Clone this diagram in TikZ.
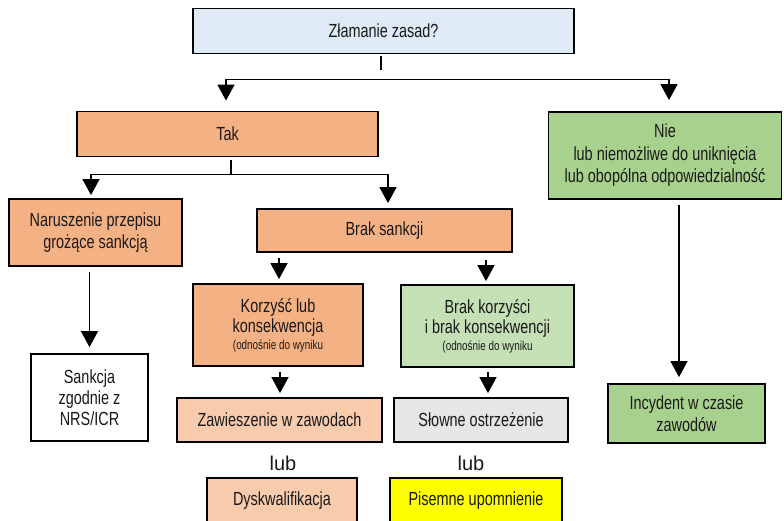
\documentclass[tikz,border=0pt]{standalone}
\usepackage{fontspec}
\setmainfont[FakeStretch=0.76]{Liberation Sans}
\newfontfamily\lubfont{Liberation Sans}
\usetikzlibrary{arrows.meta,calc}
\definecolor{topblue}{HTML}{DEEAF6}
\definecolor{orng}{HTML}{F4B183}
\definecolor{lorng}{HTML}{F8CBAD}
\definecolor{lgrn}{HTML}{C5E0B4}
\definecolor{grn}{HTML}{A9D18E}
\definecolor{lgray}{HTML}{E7E6E6}
\definecolor{yel}{HTML}{FFFF00}
\begin{document}
\begin{tikzpicture}[x=1pt,y=-1pt,
  box/.style={draw=black, line width=1.8pt, inner sep=0pt, align=center,
    font=\fontsize{19}{21.5}\selectfont, text=black!90},
  conn/.style={line width=1.4pt, draw=black},
  arr/.style={conn, -{Triangle[width=17pt,length=16pt]}},
  lubtxt/.style={font=\lubfont\fontsize{20}{22}\selectfont, inner sep=0pt, text=black!90}]
\clip (0,0) rectangle (784,521);
\fill[white] (0,0) rectangle (784,521);

% nodes
\node[box, fill=topblue, minimum width=381pt, minimum height=45pt] (top) at (383.5,31) {Złamanie zasad?};
\node[box, fill=orng, minimum width=301pt, minimum height=45pt] (tak) at (227.5,134) {Tak};
\node[box, fill=grn, minimum width=233pt, minimum height=87pt, font=\fontsize{19}{22.5}\selectfont] (nie) at (665,155.5)
  {Nie\\lub niemożliwe do uniknięcia\\lub obopólna odpowiedzialność};
\node[box, fill=orng, minimum width=173pt, minimum height=67pt, font=\fontsize{19}{22}\selectfont] (nar) at (95.5,232.5)
  {Naruszenie przepisu\\grożące sankcją};
\node[box, fill=orng, minimum width=255pt, minimum height=43pt] (brak) at (384.5,230.5) {Brak sankcji};
\node[box, fill=white, minimum width=117pt, minimum height=87pt, font=\fontsize{19}{21}\selectfont] (sank) at (89.5,397.5)
  {Sankcja\\zgodnie z\\NRS/ICR};
\node[box, fill=orng, minimum width=170pt, minimum height=82pt, font=\fontsize{19}{20.5}\selectfont] (korz) at (278,325)
  {Korzyść lub\\konsekwencja\\[-4pt]{\fontsize{13}{14}\selectfont (odnośnie do wyniku}};
\node[box, fill=lgrn, minimum width=173pt, minimum height=82pt, font=\fontsize{19}{20.5}\selectfont] (bkorz) at (487.5,326)
  {Brak korzyści\\i brak konsekwencji\\[-4pt]{\fontsize{13}{14}\selectfont (odnośnie do wyniku}};
\node[box, fill=grn, minimum width=157pt, minimum height=59pt, font=\fontsize{19}{22}\selectfont] (inc) at (686.5,413.5)
  {Incydent w czasie\\zawodów};
\node[box, fill=lorng, minimum width=205pt, minimum height=44pt] (zaw) at (279.5,420) {Zawieszenie w zawodach};
\node[box, fill=lgray, minimum width=174pt, minimum height=44pt] (slow) at (481,420) {Słowne ostrzeżenie};
\node[lubtxt] (lub1) at (283,463) {lub};
\node[lubtxt] (lub2) at (471,463) {lub};
\node[box, fill=lorng, minimum width=150pt, minimum height=46pt] (dysk) at (282,501) {Dyskwalifikacja};
\node[box, fill=yel, minimum width=172pt, minimum height=46pt] (pis) at (476,501) {Pisemne upomnienie};

% connectors
\draw[conn] ($(top.south)+(-2.5,2)$) -- ++(0,14);
\coordinate (s1) at ($(top.south)+(-2.5,25)$);
\draw[arr, shorten >=10pt] (s1) -| ($(tak.north)+(-1.5,0)$);
\draw[arr, shorten >=11pt] (s1) -| ($(nie.north)+(4,0)$);

\coordinate (s2) at ($(tak.south)+(3.5,17)$);
\draw[conn] ($(tak.south)+(3.5,3)$) -- (s2);
\draw[arr, shorten >=3pt] (s2) -| ($(nar.north)+(-4.5,0)$);
\draw[arr, shorten >=5pt] (s2) -| ($(brak.north)+(3.5,0)$);

\draw[arr, shorten <=5pt, shorten >=6pt] (sank.north |- nar.south) -- (sank.north);
\draw[arr, shorten <=5pt, shorten >=4pt] ($(korz.north |- brak.south)+(1,0)$) -- ($(korz.north)+(1,0)$);
\draw[arr, shorten <=7pt, shorten >=3pt] ($(bkorz.north |- brak.south)+(-1.5,0)$) -- ($(bkorz.north)+(-1.5,0)$);
\draw[arr, shorten <=5pt, shorten >=6pt] ($(inc.north |- nie.south)+(-7.5,0)$) -- ($(inc.north)+(-7.5,0)$);
\draw[arr, shorten <=5pt, shorten >=4pt] ($(zaw.north |- korz.south)+(0.5,0)$) -- ($(zaw.north)+(0.5,0)$);
\draw[arr, shorten <=4pt, shorten >=4pt] ($(slow.north |- bkorz.south)+(7,0)$) -- ($(slow.north)+(7,0)$);
\end{tikzpicture}
\end{document}
